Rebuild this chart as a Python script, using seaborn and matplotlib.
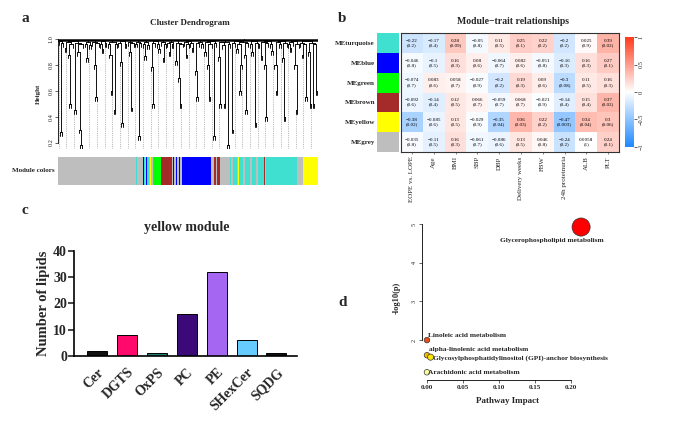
import numpy as np
import pandas as pd
import matplotlib
matplotlib.use("Agg")
import matplotlib.pyplot as plt
from matplotlib.colors import LinearSegmentedColormap
import seaborn as sns

# ---------------- data ----------------
# a: adjacent-leaf merge heights of the dendrogram (read approximately)
merge_heights = [0.985, 0.28, 0.97, 0.99, 0.93, 0.975, 0.88, 0.50, 0.96, 0.985,
                 0.45, 0.97, 0.90, 0.30, 0.18, 0.96, 0.99, 0.965, 0.85, 0.98,
                 0.95, 0.99, 0.975, 0.80, 0.55, 0.97, 0.99, 0.96, 0.92, 0.985,
                 0.97, 0.995, 0.96, 0.88, 0.60, 0.975, 0.45, 0.96, 0.99, 0.97,
                 0.82, 0.35, 0.985, 0.96, 0.99, 0.975, 0.90, 0.47, 0.97, 0.99,
                 0.965, 0.98, 0.25, 0.97, 0.995, 0.96, 0.87, 0.98, 0.95, 0.99,
                 0.78, 0.50, 0.97, 0.985, 0.96, 0.92, 0.99, 0.975, 0.85, 0.96,
                 0.995, 0.97, 0.90, 0.98, 0.96, 0.99, 0.83, 0.97, 0.70, 0.50,
                 0.965, 0.99, 0.975, 0.88, 0.96, 0.985, 0.97, 0.93, 0.995, 0.75,
                 0.55, 0.97, 0.98, 0.96, 0.99, 0.90, 0.975, 0.80, 0.55, 0.96,
                 0.985, 0.25, 0.97, 0.99, 0.86, 0.50, 0.975, 0.95, 0.50, 0.98,
                 0.18, 0.96, 0.99, 0.30, 0.97, 0.985, 0.92, 0.96, 0.60, 0.80,
                 0.975, 0.88, 0.45, 0.97, 0.995, 0.96, 0.90, 0.985, 0.35, 0.97,
                 0.96, 0.99, 0.87, 0.975, 0.80, 0.40, 0.97, 0.985, 0.96, 0.91,
                 0.99, 0.80, 0.60, 0.975, 0.96, 0.985, 0.85, 0.40, 0.97, 0.99,
                 0.96, 0.93, 0.975, 0.985, 0.80, 0.45, 0.96, 0.99, 0.97, 0.88,
                 0.96, 0.55, 0.985, 0.90, 0.50, 0.97, 0.50, 0.96, 0.60]
module_seq = ["grey", "turquoise", "grey", "turquoise", "grey", "brown", "grey", "blue",
              "turquoise", "grey", "blue", "turquoise", "grey", "yellow", "grey", "green",
              "brown", "grey", "blue", "grey", "blue", "grey", "blue", "grey", "blue",
              "grey", "brown", "grey", "brown", "grey", "turquoise", "grey", "turquoise",
              "grey", "yellow", "turquoise", "grey", "turquoise", "grey", "turquoise",
              "grey", "turquoise", "brown", "black", "grey", "turquoise", "grey", "yellow"]
module_width = [185, 2, 48, 2, 14, 2, 2, 2, 4, 4, 2, 6, 4, 3, 5, 23,
                34, 3, 4, 6, 3, 5, 3, 6, 88, 7, 6, 4, 8, 30, 5, 5, 12,
                4, 2, 12, 5, 15, 6, 14, 5, 18, 2, 2, 3, 93, 17, 45]
r_colors = {"grey": "#BEBEBE", "turquoise": "#40E0D0", "blue": "#0000FF", "brown": "#A52A2A",
            "yellow": "#FFFF00", "green": "#00FF00", "black": "#222222"}

# b: module-trait correlations
modules = ["MEturquoise", "MEblue", "MEgreen", "MEbrown", "MEyellow", "MEgrey"]
module_fill = ["#40E0D0", "#0000FF", "#00FF00", "#A52A2A", "#FFFF00", "#BEBEBE"]
traits = ["EOPE vs. LOPE", "Age", "BMI", "SBP", "DBP", "Delivery weeks", "FBW",
          "24h proteinuria", "ALB", "PLT"]
corr = [[-0.22, -0.17, 0.28, -0.05, 0.11, 0.25, 0.22, -0.2, 0.025, 0.39],
        [-0.046, -0.1, 0.16, 0.08, -0.064, 0.082, -0.051, -0.16, 0.16, 0.27],
        [-0.074, 0.083, 0.058, -0.027, -0.2, 0.19, 0.09, -0.3, 0.11, 0.16],
        [-0.092, -0.14, 0.12, 0.066, -0.059, 0.068, -0.021, -0.14, 0.15, 0.37],
        [-0.38, -0.085, 0.13, -0.029, -0.35, 0.36, 0.22, -0.47, 0.34, 0.3],
        [-0.035, -0.11, 0.16, -0.061, -0.086, 0.13, 0.046, -0.24, 0.0058, 0.24]]
pval = [["0.2", "0.4", "0.09", "0.8", "0.5", "0.1", "0.2", "0.2", "0.9", "0.02"],
        ["0.8", "0.5", "0.3", "0.6", "0.7", "0.6", "0.8", "0.3", "0.3", "0.1"],
        ["0.7", "0.6", "0.7", "0.9", "0.2", "0.3", "0.6", "0.08", "0.5", "0.3"],
        ["0.6", "0.4", "0.5", "0.7", "0.7", "0.7", "0.9", "0.4", "0.4", "0.02"],
        ["0.02", "0.6", "0.5", "0.9", "0.04", "0.03", "0.2", "0.003", "0.04", "0.06"],
        ["0.8", "0.5", "0.3", "0.7", "0.6", "0.5", "0.8", "0.2", "1", "0.1"]]

# c: yellow module lipid classes
lipid_classes = ["Cer", "DGTS", "OxPS", "PC", "PE", "SHexCer", "SQDG"]
lipid_counts = [2, 8, 1, 16, 32, 6, 1]
lipid_colors = ["#111111", "#FF0A6C", "#1F7F75", "#3B0A78", "#A566F2", "#66CCFF", "#111111"]

# d: pathway analysis
pathways = ["Glycerophospholipid metabolism", "Linoleic acid metabolism",
            "alpha-linolenic acid metabolism",
            "Glycosylphosphatidylinositol (GPI)-anchor biosynthesis",
            "Arachidonic acid metabolism"]
impact = [0.214, 0.0, 0.0, 0.005, 0.0]
neglogp = [4.92, 2.0, 1.61, 1.56, 1.17]
path_colors = ["#FF0000", "#E8501A", "#F5B800", "#FFE600", "#FFFF99"]

# ---------------- figure ----------------
sns.set_theme(style="white")
plt.rcParams["font.family"] = ["Liberation Serif", "DejaVu Serif"]
W, H = 685.0, 425.0
fig = plt.figure(figsize=(6.85, 4.25), dpi=100)


def fx(px):
    return px / W


def fy(py):
    return 1 - py / H


def add_ax(x0, y0, x1, y1):
    return fig.add_axes([fx(x0), fy(y1), fx(x1) - fx(x0), (y1 - y0) / H])


for lab, (px, py) in zip("abcd", [(25, 18), (342, 18), (25, 210), (343, 302)]):
    fig.text(fx(px), fy(py), lab, fontsize=11, fontweight="bold", ha="center", va="center")

# ---------- a: dendrogram ----------
axd = add_ax(58, 39, 318, 149)
n = len(merge_heights) + 1
hang = 0.03
clusters = [{"lo": i, "hi": i, "x": float(i), "h": None} for i in range(n)]
leaf_bottom = [None] * n
order = sorted(range(n - 1), key=lambda k: merge_heights[k])
for k in order:
    m = merge_heights[k]
    li = next(j for j, c in enumerate(clusters) if c["hi"] == k)
    c1, c2 = clusters[li], clusters[li + 1]
    for c in (c1, c2):
        if c["h"] is None:
            c["h"] = m - hang
            leaf_bottom[c["lo"]] = c["h"]
        axd.plot([c["x"], c["x"]], [c["h"], m], color="black", lw=0.65)
    axd.plot([c1["x"], c2["x"]], [m, m], color="black", lw=0.65)
    clusters[li:li + 2] = [{"lo": c1["lo"], "hi": c2["hi"], "x": (c1["x"] + c2["x"]) / 2, "h": m}]
top = clusters[0]
axd.plot([top["x"], top["x"]], [top["h"], 1.0], color="black", lw=0.65)
axd.plot([-0.5, n - 0.5], [0.993, 0.993], color="black", lw=1.8)
for i in range(0, n, 5):
    axd.plot([i, i], [0.15, leaf_bottom[i]], color="#888888", lw=0.4, ls=(0, (2, 2)), zorder=0)
axd.set_xlim(-0.5, n - 0.5)
axd.set_ylim(0.15, 1.0)
for s in ["top", "right", "bottom"]:
    axd.spines[s].set_visible(False)
axd.spines["left"].set_bounds(0.2, 1.0)
axd.spines["left"].set_linewidth(0.6)
axd.spines["left"].set_color("black")
axd.set_xticks([])
axd.set_yticks([0.2, 0.4, 0.6, 0.8, 1.0])
axd.set_yticklabels(["0.2", "0.4", "0.6", "0.8", "1.0"], rotation=90, va="center", fontsize=4.5)
axd.tick_params(axis="y", length=2, width=0.5, pad=1, left=True)
axd.set_ylabel("Height", fontsize=5, fontweight="bold", labelpad=6)
fig.text(fx(190), fy(23), "Cluster Dendrogram", fontsize=6.5, fontweight="bold", ha="center", va="center")

axm = add_ax(58, 157, 318, 185)
lefts = np.concatenate([[0], np.cumsum(module_width)[:-1]])
axm.bar(lefts, [1] * len(module_width), width=module_width, align="edge",
        color=[r_colors[c] for c in module_seq], linewidth=0)
axm.set_xlim(0, sum(module_width))
axm.set_ylim(0, 1)
axm.axis("off")
fig.text(fx(55), fy(171), "Module colors", fontsize=5, fontweight="bold", ha="right", va="center")

# ---------- b: heatmap ----------
axh = add_ax(401, 33, 619, 152)
axc = add_ax(377, 33, 399, 152)
cax = add_ax(625, 37, 634, 147)
cmap = LinearSegmentedColormap.from_list("bwr_wgcna", ["#1E88FF", "#FFFFFF", "#FF3A1A"])
df = pd.DataFrame(corr, index=modules, columns=traits)
annot = np.array([[f"{c:g}\n({p})" for c, p in zip(rc, rp)] for rc, rp in zip(corr, pval)])
annot = np.char.replace(annot, "-", "\u2212")
sns.heatmap(df, ax=axh, cmap=cmap, vmin=-1, vmax=1, annot=annot, fmt="",
            annot_kws={"fontsize": 3.6, "color": "black", "linespacing": 1.1},
            cbar_ax=cax, xticklabels=traits, yticklabels=False)
for s in axh.spines.values():
    s.set_visible(True)
    s.set_linewidth(0.8)
    s.set_color("#333333")
axh.set_xticklabels(traits, rotation=90, fontsize=5, va="top", ha="center")
axh.tick_params(axis="x", length=1.5, width=0.4, pad=1.5, bottom=True)
axh.set_xlabel("")
axh.set_ylabel("")

axc.barh(np.arange(len(modules)) + 0.5, [1] * len(modules), height=1.0, color=module_fill, linewidth=0)
axc.set_ylim(len(modules), 0)
axc.set_xlim(0, 1)
for s in axc.spines.values():
    s.set_visible(False)
axc.set_xticks([])
axc.set_yticks(np.arange(len(modules)) + 0.5)
axc.set_yticklabels(modules, fontsize=5, fontweight="bold")
axc.tick_params(axis="y", length=0, pad=1.5)

cax.set_yticks([-1, -0.5, 0, 0.5, 1])
cax.set_yticklabels(["\u22121", "\u22120.5", "0", "0.5", "1"], rotation=90, va="center", fontsize=4.5)
cax.tick_params(axis="y", length=2.5, width=0.5, pad=1, right=True)
for s in cax.spines.values():
    s.set_visible(False)
fig.text(fx(513), fy(22), "Module\u2212trait relationships", fontsize=7, fontweight="bold",
         ha="center", va="center")

# ---------- c: bar chart ----------
axb = add_ax(74, 250.7, 296.7, 356)
sns.barplot(x=lipid_classes, y=lipid_counts, hue=lipid_classes, palette=lipid_colors,
            legend=False, ax=axb, edgecolor="black", linewidth=0.7, width=0.67, saturation=1)
axb.set_xlim(-0.78, 6.68)
axb.set_ylim(0, 40)
axb.set_yticks([0, 10, 20, 30, 40])
sns.despine(ax=axb)
for s in ["left", "bottom"]:
    axb.spines[s].set_linewidth(1.2)
    axb.spines[s].set_color("black")
axb.tick_params(axis="y", left=True, length=4, width=1.2, pad=1, labelsize=10)
axb.tick_params(axis="x", bottom=False, labelsize=10, pad=1)
for t in axb.get_yticklabels():
    t.set_fontweight("bold")
axb.set_xticks(range(len(lipid_classes)))
axb.set_xticklabels(lipid_classes, rotation=45, ha="right", rotation_mode="anchor",
                    fontweight="bold", fontsize=10)
axb.set_ylabel("Number of lipids", fontsize=10.5, fontweight="bold", labelpad=2)
axb.set_xlabel("")
fig.text(fx(187), fy(228), "yellow module", fontsize=10, fontweight="bold", ha="center", va="center")

# ---------- d: pathway bubble plot ----------
axp = add_ax(422, 216.2, 592.6, 380)
dfp = pd.DataFrame({"pathway": pathways, "impact": impact, "nlp": neglogp})
sns.scatterplot(data=dfp, x="impact", y="nlp", hue="pathway", palette=path_colors,
                size="impact", sizes=(16, 170), legend=False, ax=axp,
                edgecolor="#333333", linewidth=0.5, zorder=3)
axp.set_xlim(-0.0069, 0.23)
axp.set_ylim(0.97, 5.2)
for s in ["top", "right"]:
    axp.spines[s].set_visible(False)
axp.spines["left"].set_bounds(2, 5)
axp.spines["bottom"].set_bounds(0, 0.2)
for s in ["left", "bottom"]:
    axp.spines[s].set_linewidth(0.6)
    axp.spines[s].set_color("black")
axp.set_yticks([2, 3, 4, 5])
axp.set_yticklabels(["2", "3", "4", "5"], rotation=90, va="center", fontsize=4.5)
axp.set_xticks([0, 0.05, 0.10, 0.15, 0.20])
axp.set_xticklabels(["0.00", "0.05", "0.10", "0.15", "0.20"], fontsize=5, fontweight="bold")
axp.tick_params(axis="both", length=2, width=0.5, pad=1.5, left=True, bottom=True)
axp.set_xlabel("Pathway Impact", fontsize=6.5, fontweight="bold", labelpad=5)
axp.set_ylabel("-log10(p)", fontsize=6, fontweight="bold", labelpad=8)
lab_off = [(-0.04, -0.36, "center", "center"), (0.001, 0.12, "left", "center"),
           (0.0025, 0.15, "left", "center"), (0.0035, -0.02, "left", "center"),
           (0.002, 0.0, "left", "center")]
for name, x, y, (dx, dy, ha, va) in zip(pathways, impact, neglogp, lab_off):
    axp.text(x + dx, y + dy, name, fontsize=5.3, fontweight="bold", ha=ha, va=va)

fig.savefig("out.png", dpi=100)
